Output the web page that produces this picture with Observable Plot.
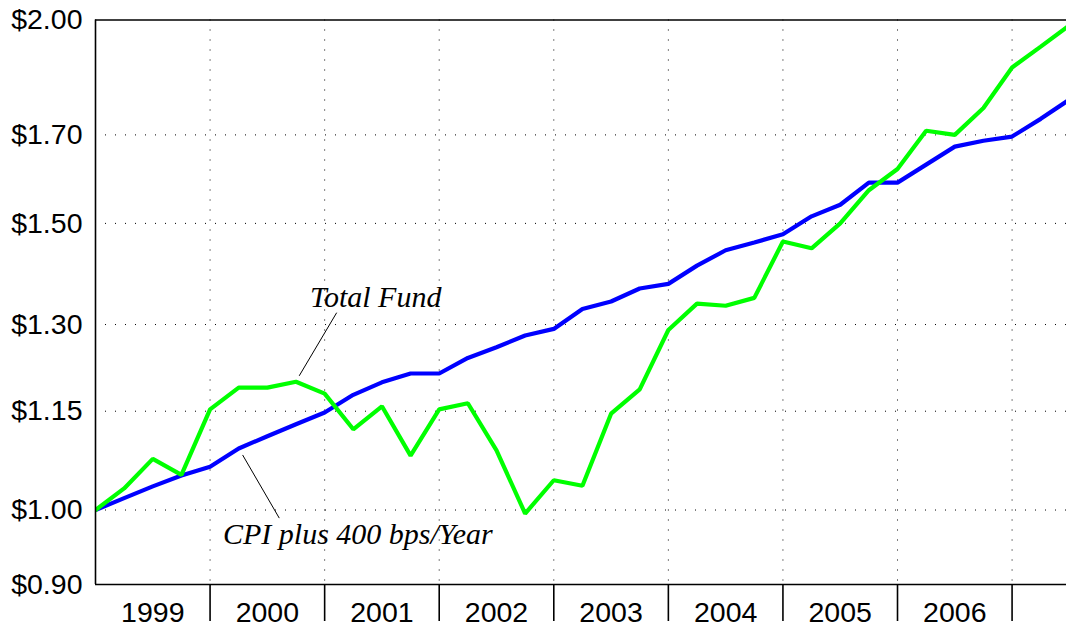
<!DOCTYPE html>
<html><head><meta charset="utf-8">
<script src="https://cdn.jsdelivr.net/npm/d3@7"></script>
<script src="https://cdn.jsdelivr.net/npm/@observablehq/plot@0.6"></script>
<style>body{margin:0;background:#fff;overflow:hidden}</style>
</head><body><div id="chart"></div>
<script>
// Quarter-end dates as decimal years (1999.0 = start of 1999)
const quarters = [1999.00,1999.25,1999.50,1999.75,2000.00,2000.25,2000.50,2000.75,
  2001.00,2001.25,2001.50,2001.75,2002.00,2002.25,2002.50,2002.75,
  2003.00,2003.25,2003.50,2003.75,2004.00,2004.25,2004.50,2004.75,
  2005.00,2005.25,2005.50,2005.75,2006.00,2006.25,2006.50,2006.75,
  2007.00,2007.25,2007.50];
const totalFund = [1.000,1.031,1.075,1.051,1.153,1.189,1.189,1.199,
  1.179,1.121,1.158,1.080,1.153,1.163,1.088,0.995,
  1.043,1.035,1.146,1.186,1.290,1.339,1.335,1.350,
  1.462,1.448,1.500,1.572,1.620,1.710,1.700,1.766,
  1.870,1.926,1.985];
const cpiPlus400 = [1.000,1.017,1.034,1.050,1.063,1.091,1.110,1.129,
  1.148,1.177,1.198,1.213,1.213,1.240,1.259,1.280,
  1.292,1.329,1.343,1.368,1.377,1.413,1.444,1.460,
  1.477,1.515,1.540,1.589,1.589,1.630,1.672,1.686,
  1.696,1.739,1.787];
const yTicks = [0.90, 1.00, 1.15, 1.30, 1.50, 1.70, 2.00];
const yearLabels = [1999, 2000, 2001, 2002, 2003, 2004, 2005, 2006];
const yearBounds = [2000, 2001, 2002, 2003, 2004, 2005, 2006, 2007];
// annotation: label anchor and leader line (data units)
const labelPos = [
  {name: "Total Fund", x: 2000.872, y: 1.332, x1: 2001.105, y1: 1.322, x2: 2000.778, y2: 1.209},
  {name: "CPI plus 400 bps/Year", x: 2000.113, y: 0.9537, x1: 2000.284, y1: 1.081, x2: 2000.604, y2: 0.9886}
];

const fund = quarters.map((q, i) => ({q, v: totalFund[i]}));
const cpi = quarters.map((q, i) => ({q, v: cpiPlus400[i]}));
const sans = "'Liberation Sans', Arial, Helvetica, sans-serif";

const chart = Plot.plot({
  width: 1066,
  height: 628,
  marginLeft: 95,
  marginRight: 0,
  marginTop: 19.5,
  marginBottom: 44,
  style: {fontFamily: sans, background: "#fff", color: "#000"},
  x: {domain: [1999, 2007.475], axis: null},
  y: {type: "log", domain: [0.9, 2.0], axis: null},
  marks: [
    Plot.gridY(yTicks.slice(1, -1), {stroke: "#000", strokeOpacity: 1, strokeDasharray: "1,9"}),
    Plot.gridX(yearBounds, {stroke: "#000", strokeOpacity: 1, strokeDasharray: "1,9"}),
    Plot.line(cpi, {x: "q", y: "v", stroke: "#0000ff", strokeWidth: 4.2, strokeLinejoin: "miter", clip: true}),
    Plot.line(fund, {x: "q", y: "v", stroke: "#00ff00", strokeWidth: 4.2, strokeLinejoin: "miter", clip: true}),
    Plot.ruleY([0.9, 2.0], {stroke: "#000", strokeWidth: 1.6}),
    Plot.ruleX([1999], {stroke: "#000", strokeWidth: 1.6}),
    Plot.axisY(yTicks, {tickSize: 0, tickPadding: 13, fontSize: 28.5, tickFormat: d => "$" + d.toFixed(2), label: null}),
    Plot.axisX(yearBounds, {tickSize: 37, tickFormat: () => "", label: null, strokeWidth: 1.6}),
    Plot.axisX(yearLabels.map(y => y + 0.5), {tickSize: 0, tickPadding: 17, fontSize: 28.5, tickFormat: d => String(Math.floor(d)), label: null}),
    Plot.link(labelPos, {x1: "x1", y1: "y1", x2: "x2", y2: "y2", stroke: "#000", strokeWidth: 1}),
    Plot.text(labelPos, {x: "x", y: "y", text: "name", textAnchor: "start", lineAnchor: "bottom",
      fontSize: 30, fontStyle: "italic", fontFamily: "'Liberation Serif', 'Times New Roman', serif", fill: "#000"})
  ]
});
document.getElementById("chart").appendChild(chart);
</script>
</body></html>
